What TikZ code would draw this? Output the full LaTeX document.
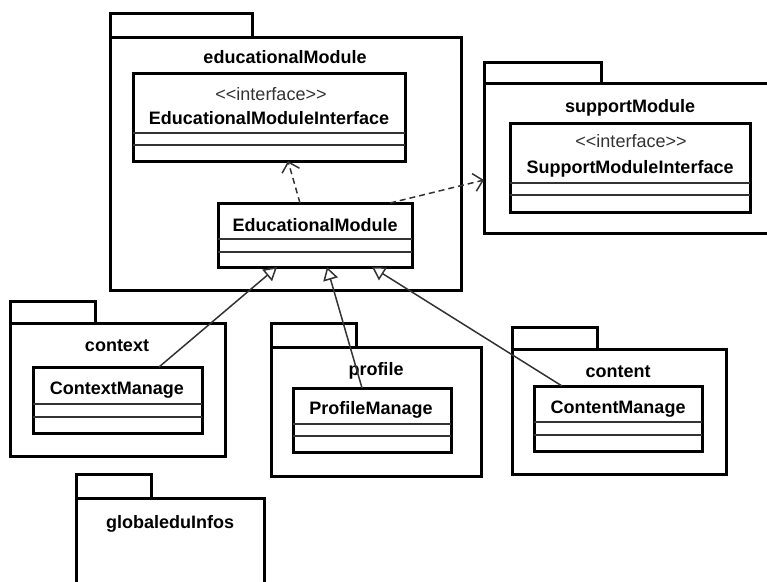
\documentclass[tikz,border=0pt]{standalone}
\usepackage{fontspec}
\setmainfont{Liberation Sans}
\usetikzlibrary{arrows.meta}
\begin{document}
\begin{tikzpicture}[x=1pt,y=-1pt,
  frame/.style={draw=black, line width=3pt, fill=white, inner sep=0pt, outer sep=0pt},
  pkgbody/.style={frame},
  pkgtab/.style={frame},
  classbox/.style={frame},
  divider/.style={draw=black!80, line width=1.5pt},
  title/.style={font=\fontsize{18}{20}\selectfont\bfseries, anchor=base, inner sep=0pt},
  stereo/.style={font=\fontsize{18}{20}\selectfont, anchor=base, inner sep=0pt, text=black!80},
  link/.style={draw=black!80, line width=1.5pt},
  depend/.style={link, dash pattern=on 6pt off 4pt, -{Straight Barb[length=9pt,width=18pt]}},
  inherit/.style={link, -{Triangle[open, length=13pt, width=15pt, fill=white]}},
]
\useasboundingbox (0,0) rectangle (767,581);
\clip (0,0) rectangle (767,581);

% packages: tab first, body on top of it
\node[pkgtab,  minimum width=142, minimum height=24] (eduTab) at (181,25) {};
\node[pkgbody, minimum width=351, minimum height=253] (edu) at (285.5,163.5) {};
\node[pkgtab,  minimum width=117, minimum height=21] (supTab) at (542.5,72.5) {};
\node[pkgbody, minimum width=316, minimum height=150] (sup) at (642,158) {};
\node[pkgtab,  minimum width=85, minimum height=22] (ctxTab) at (52.5,312) {};
\node[pkgbody, minimum width=215, minimum height=133] (ctx) at (117.5,389.5) {};
\node[pkgtab,  minimum width=85, minimum height=24] (profTab) at (313.5,335) {};
\node[pkgbody, minimum width=210, minimum height=129] (prof) at (376,411.5) {};
\node[pkgtab,  minimum width=85, minimum height=22] (contTab) at (554.5,338) {};
\node[pkgbody, minimum width=214, minimum height=125] (cont) at (619,411.5) {};
\node[pkgtab,  minimum width=75, minimum height=24] (globTab) at (113.5,486) {};
\node[pkgbody, minimum width=188, minimum height=122] (glob) at (170,559) {};

% package titles
\node[title] (eduName)  at (285,63)  {educationalModule};
\node[title] (supName)  at (630,112) {supportModule};
\node[title] (ctxName)  at (117,351) {context};
\node[title] (profName) at (376,375) {profile};
\node[title] (contName) at (618,377) {content};
\node[title] (globName) at (170,528) {globaleduInfos};

% classes
\node[classbox, minimum width=272, minimum height=88] (emi) at (269,117) {};
\draw[divider] (emi.west |- 0,133) -- (emi.east |- 0,133);
\draw[divider] (emi.west |- 0,145) -- (emi.east |- 0,145);
\node[stereo] (emiSt) at (271,100) {<{}<interface>{}>};
\node[title]  (emiName) at (269,124) {EducationalModuleInterface};

\node[classbox, minimum width=194, minimum height=64] (em) at (315,235) {};
\draw[divider] (em.west |- 0,239) -- (em.east |- 0,239);
\draw[divider] (em.west |- 0,252) -- (em.east |- 0,252);
\node[title] (emName) at (315,231) {EducationalModule};

\node[classbox, minimum width=240, minimum height=89] (smi) at (630,167.5) {};
\draw[divider] (smi.west |- 0,183) -- (smi.east |- 0,183);
\draw[divider] (smi.west |- 0,195) -- (smi.east |- 0,195);
\node[stereo] (smiSt) at (631,147) {<{}<interface>{}>};
\node[title]  (smiName) at (630,173) {SupportModuleInterface};

\node[classbox, minimum width=169, minimum height=66] (ctxm) at (117.5,400) {};
\draw[divider] (ctxm.west |- 0,404) -- (ctxm.east |- 0,404);
\draw[divider] (ctxm.west |- 0,417) -- (ctxm.east |- 0,417);
\node[title] (ctxmName) at (117,394) {ContextManage};

\node[classbox, minimum width=158, minimum height=64] (profm) at (372,420) {};
\draw[divider] (profm.west |- 0,424) -- (profm.east |- 0,424);
\draw[divider] (profm.west |- 0,436) -- (profm.east |- 0,436);
\node[title] (profmName) at (371,414) {ProfileManage};

\node[classbox, minimum width=168, minimum height=65] (contm) at (618,418.5) {};
\draw[divider] (contm.west |- 0,422) -- (contm.east |- 0,422);
\draw[divider] (contm.west |- 0,435) -- (contm.east |- 0,435);
\node[title] (contmName) at (618,413) {ContentManage};

% dependencies
\draw[depend] ([xshift=-15pt]em.north) -- ([xshift=19pt]emi.south);
\draw[depend] ([xshift=75pt]em.north) -- ([yshift=-22pt]sup.west);

% generalizations
\draw[inherit] ([xshift=41.5pt]ctxm.north) -- ([xshift=-38pt]em.south);
\draw[inherit] ([xshift=-10pt]profm.north) -- ([xshift=12pt]em.south);
\draw[inherit] ([xshift=-56pt]contm.north) -- ([xshift=57pt]em.south);
\end{tikzpicture}
\end{document}
